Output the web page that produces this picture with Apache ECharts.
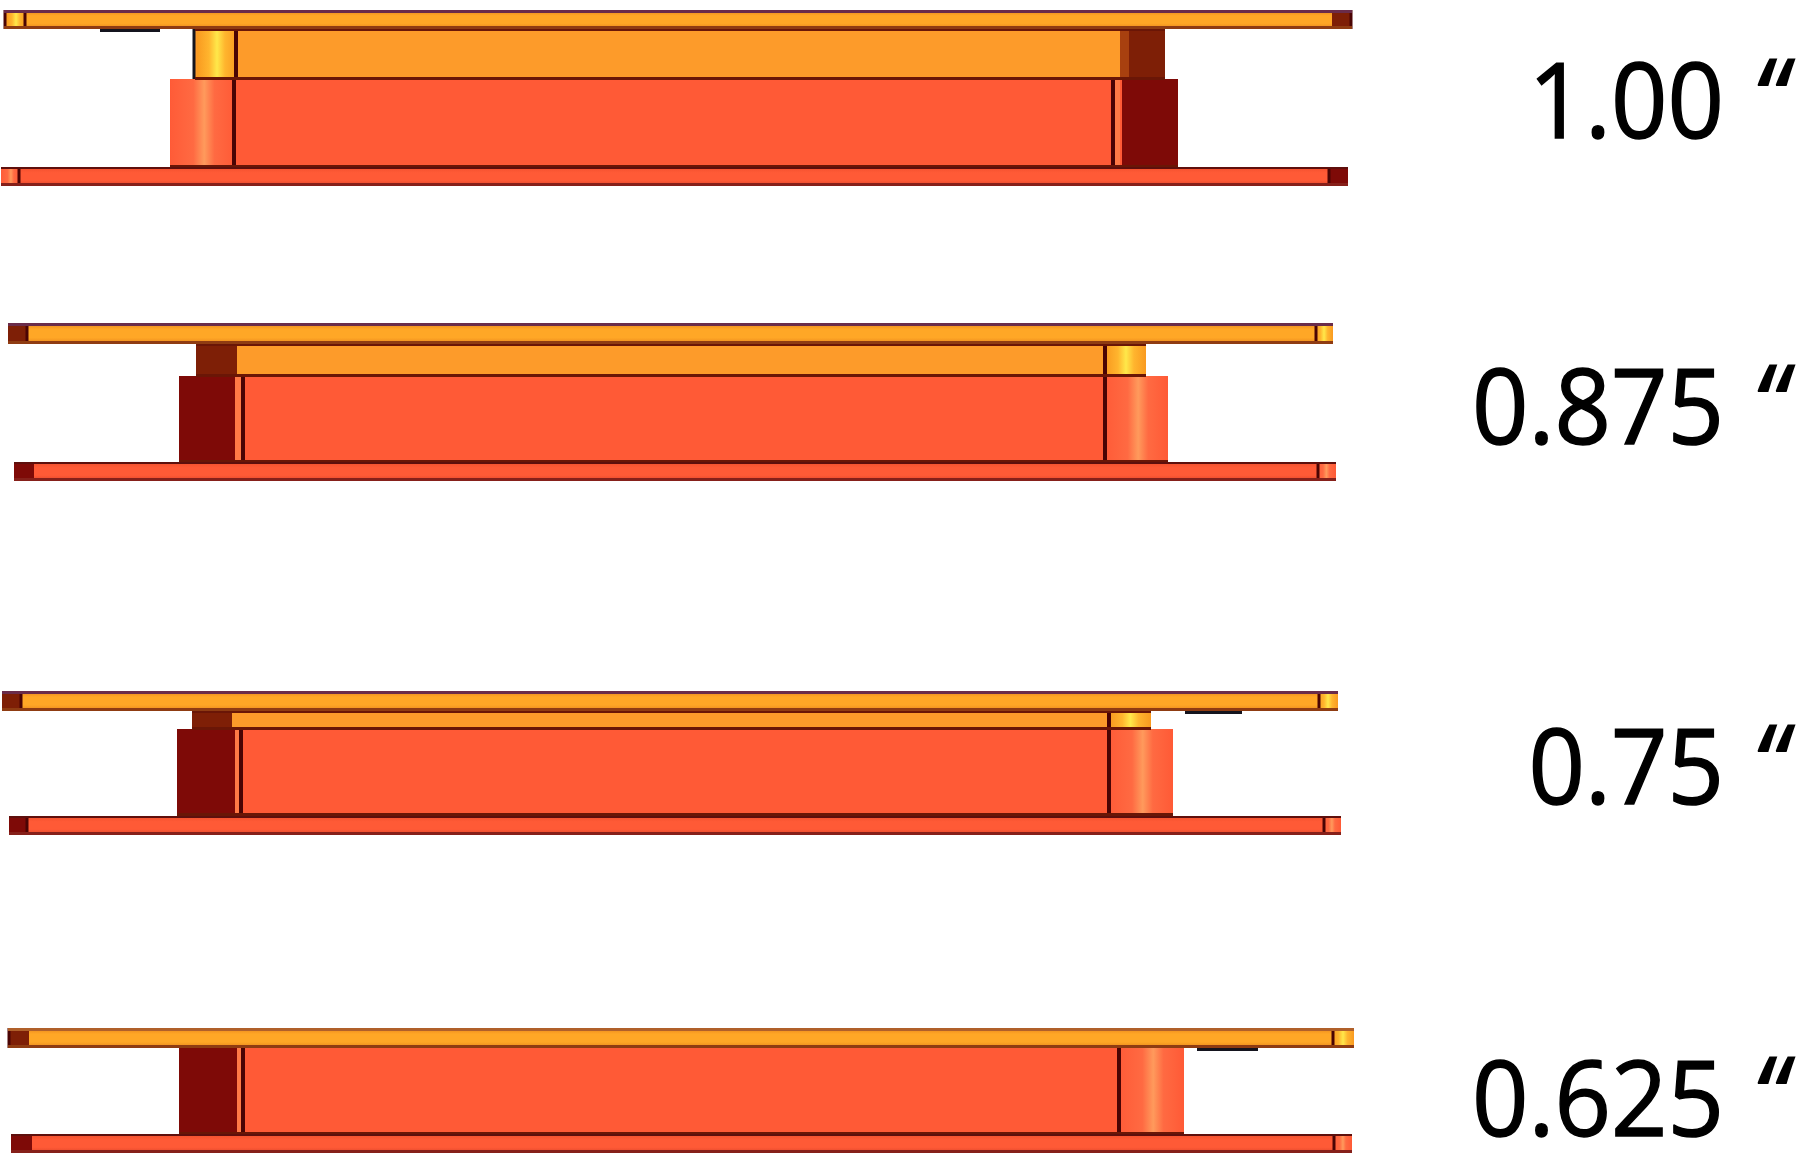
<!DOCTYPE html>
<html><head><meta charset="utf-8">
<style>html,body{margin:0;padding:0;background:#fff}#c{width:1803px;height:1167px}</style>
<script src="https://cdn.jsdelivr.net/npm/echarts@6/dist/echarts.min.js"></script>
</head><body><div id="c"></div>
<script>
// In axis units
const gapLabels = ['1.00', '0.875', '0.75', '0.625'];
const quoteMark = '\u201C';
const labelCenters = [108, 414, 774, 1106];
const topPlateX = [[4,1352],[8,1333],[2,1338],[8,1354]];
const topPlateY = [[10,29],[323,344],[691,711],[1028,1048]];
const bottomPlateX = [[1,1348],[14,1336],[9,1341],[11,1352]];
const bottomPlateY = [[167,186],[462,481],[816,835],[1134,1153]];
const upperBlockX = [[195,1165],[196,1146],[192,1151],null];
const upperBlockY = [[29,79],[344,376],[711,729],null];
const lowerBlockX = [[170,1178],[179,1168],[177,1173],[179,1184]];
const lowerBlockY = [[79,167],[376,462],[729,815],[1048,1134]];
const lightSideX = [[171,235],[1106,1168],[1110,1173],[1120,1184]];
const darkSideX = [[1122,1178],[179,235],[177,235],[179,237]];
const upperLightX = [[197,237],[1106,1146],[1110,1151],null];
const upperDarkX = [[1129,1165],[196,237],[192,232],null];
const upperShadeX = [[1120,1129],[226,237],[224,232],null];
const stripX = [[1115,1120],[235,241],[235,240],[237,241]];
const seamLower = [[234,1113],[243,1105],[241,1109],[243,1119]];
const seamUpper = [[236],[1105],[1109],[]];
const outlineUpperLeft = [194, null, null, null];
const blackLineX = [[100,160],null,[1185,1242],[1197,1258]];
const topCapLight = [[6,26],[1315,1333],[1318,1338],[1332,1354]];
const topCapDark = [[1332,1352],[8,28],[2,22],[8,29]];
const bottomCapLight = [[1,20],[1316,1336],[1322,1341],[1333,1352]];
const bottomCapDark = [[1329,1348],[14,34],[9,28],[11,32]];
const topCapSeams = [[5,25,1351],[27,1316],[21,1319],[9,1333]];
const bottomCapSeams = [[19,1329],[1318],[27,1324],[1334]];

const KIND = {TOP:0,BOTTOM:1,UPPER:2,LOWER:3,RED_CYL:4,MAROON:5,YEL_CYL:6,BROWN:7,SHADE:8,STRIP:9,SEAM:10,BLACK:11,EDGE:12,TOP_HI:13,TOP_LO:14,BOT_HI:15,BOT_LO:16,TOP_SOFT:17};
const rects = [];
const add = (x, y, k) => { if (x && y) rects.push([x[0], y[0], x[1], y[1], k]); };
const seamAt = (x, y, w, k) => add([x - w / 2, x + w / 2], y, k);
gapLabels.forEach((_, i) => {
  const ty = topPlateY[i], by = bottomPlateY[i], uy = upperBlockY[i], ly = lowerBlockY[i];
  if (uy) {
    add(upperBlockX[i], uy, KIND.UPPER);
    add(upperLightX[i], uy, KIND.YEL_CYL);
    add(upperShadeX[i], uy, KIND.SHADE);
    add(upperDarkX[i], uy, KIND.BROWN);
    seamUpper[i].forEach(x => seamAt(x, uy, 4, KIND.SEAM));
    if (outlineUpperLeft[i]) seamAt(outlineUpperLeft[i], uy, 3, KIND.BLACK);
  }
  add(lowerBlockX[i], ly, KIND.LOWER);
  add(lightSideX[i], ly, KIND.RED_CYL);
  add(stripX[i], ly, KIND.STRIP);
  add(darkSideX[i], ly, KIND.MAROON);
  seamLower[i].forEach(x => seamAt(x, ly, 4, KIND.SEAM));
  if (uy) add(upperBlockX[i], [uy[1] - 2, uy[1] + 1], KIND.EDGE);
  add(lowerBlockX[i], [ly[1] - 2, ly[1] + 1], KIND.EDGE);
  if (uy) add(upperBlockX[i], [uy[0], uy[0] + 2], KIND.EDGE);

  add(topPlateX[i], ty, KIND.TOP);
  add(topCapLight[i], ty, KIND.YEL_CYL);
  add(topCapDark[i], ty, KIND.BROWN);
  topCapSeams[i].forEach(x => seamAt(x, ty, 3, KIND.SEAM));
  add(topPlateX[i], [ty[0], ty[0] + 3], i === 3 ? KIND.TOP_SOFT : KIND.TOP_HI);
  add(topPlateX[i], [ty[1] - 3, ty[1]], KIND.TOP_LO);

  add(bottomPlateX[i], by, KIND.BOTTOM);
  add(bottomCapLight[i], by, KIND.RED_CYL);
  add(bottomCapDark[i], by, KIND.MAROON);
  bottomCapSeams[i].forEach(x => seamAt(x, by, 3, KIND.SEAM));
  add(bottomPlateX[i], [by[0], by[0] + 2], KIND.BOT_HI);
  add(bottomPlateX[i], [by[1] - 3, by[1]], KIND.BOT_LO);

  if (blackLineX[i]) add(blackLineX[i], [ty[1], ty[1] + 3], KIND.BLACK);
});

const grad = (h, stops) => new echarts.graphic.LinearGradient(0, 0, h ? 1 : 0, h ? 0 : 1,
  stops.map(s => ({offset: s[0], color: s[1]})));
const FILL = () => [
  grad(false, [[0,'#e8851c'],[0.3,'#ffa726'],[0.7,'#ffa726'],[1,'#e8851c']]),
  grad(false, [[0,'#f04f2c'],[0.3,'#ff5a36'],[0.7,'#ff5a36'],[1,'#e0452a']]),
  '#fd9b2a',
  '#ff5a36',
  grad(true, [[0,'#ff5c38'],[0.35,'#ff6a42'],[0.52,'#ff9a5c'],[0.68,'#ff6a42'],[1,'#ff5a36']]),
  '#7e0a07',
  grad(true, [[0,'#f99a20'],[0.3,'#ffb52e'],[0.5,'#ffe84a'],[0.7,'#ffb52e'],[1,'#f99a20']]),
  '#7e1f06',
  '#a8400f',
  '#ff7a46',
  '#4a0404',
  '#14141e',
  '#6a1606',
  '#6a2c4a',
  '#8f3c12',
  '#5e0f0c',
  '#86201a',
  '#b0602a'
];
let fills;
const chart = echarts.init(document.getElementById('c'), null, {renderer: 'canvas'});
chart.setOption({
  animation: false,
  backgroundColor: '#ffffff',
  grid: {left: 0, right: 0, top: 0, bottom: 0},
  xAxis: {type: 'value', min: 0, max: 1803, show: false},
  yAxis: {type: 'value', min: 0, max: 1167, inverse: true, show: false},
  series: [{
    type: 'custom',
    coordinateSystem: 'cartesian2d',
    clip: false,
    encode: {x: [0, 2], y: [1, 3]},
    data: rects,
    renderItem(params, api) {
      fills = fills || FILL();
      const a = api.coord([api.value(0), api.value(1)]);
      const b = api.coord([api.value(2), api.value(3)]);
      const k = api.value(4);
      return {
        type: 'rect',
        shape: {x: a[0], y: a[1], width: b[0] - a[0], height: b[1] - a[1]},
        style: {fill: fills[k], lineWidth: 0}
      };
    }
  }, {
    type: 'custom',
    coordinateSystem: 'cartesian2d',
    clip: false,
    encode: {x: 0, y: 1},
    data: gapLabels.map((t, i) => [1724, labelCenters[i], t]),
    renderItem(params, api) {
      const p = api.coord([api.value(0), api.value(1)]);
      const t = gapLabels[params.dataIndex];
      return {
        type: 'group',
        children: [
          {type: 'text', x: p[0], y: p[1], scaleX: 0.95,
           style: {text: t, fill: '#000', stroke: '#000', lineWidth: 1.5, align: 'right', verticalAlign: 'middle',
                   font: '104px "Open Sans"'}},
          {type: 'text', x: p[0] + 64, y: p[1] - 1, scaleX: 0.82,
           style: {text: quoteMark, fill: '#000', align: 'right', verticalAlign: 'middle',
                   font: 'italic 600 112px "Open Sans"'}}
        ]
      };
    }
  }]
});
</script></body></html>
